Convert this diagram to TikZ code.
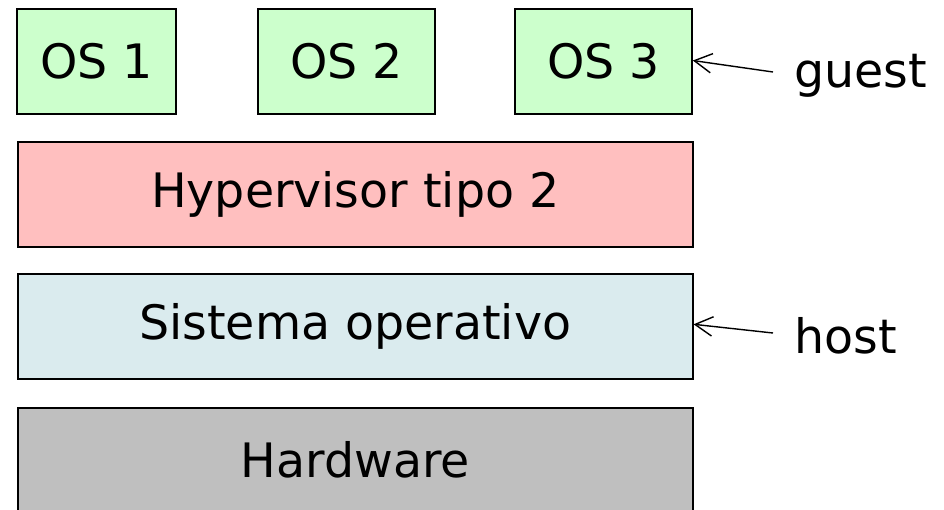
\documentclass[tikz,border=0pt]{standalone}
\usepackage{fontspec}
\setmainfont{DejaVu Sans}
\usetikzlibrary{arrows.meta,positioning}
\definecolor{guestgreen}{HTML}{CCFFCC}
\definecolor{hyperpink}{HTML}{FFBFBF}
\definecolor{hostblue}{HTML}{DAEBEE}
\definecolor{hwgray}{HTML}{BFBFBF}
\tikzset{
  layer/.style={draw, line width=0.9pt, minimum height=2.1cm, inner sep=0pt, font=\fontsize{27}{30}\selectfont},
  osbox/.style={layer, fill=guestgreen, minimum width=3.3cm},
  wide/.style={layer, minimum width=13.5cm, anchor=north west},
  tag/.style={font=\fontsize{27}{30}\selectfont, anchor=west, inner sep=0pt},
  pointer/.style={-{Straight Barb[length=10pt,width=11pt]}, line width=0.8pt}
}
\begin{document}
\begin{tikzpicture}
					\useasboundingbox (0,0) rectangle (18.88,-10.18);
					\clip (0,0) rectangle (18.88,-10.18);

					% guest systems
					\node[osbox, minimum width=3.18cm] (os1) at (1.93,-1.23) {OS 1};
					\node[osbox, minimum width=3.54cm] (os2) at (6.93,-1.23) {OS 2};
					\node[osbox, minimum width=3.54cm] (os3) at (12.07,-1.23) {OS 3};

					% layers
					\node[wide, fill=hyperpink] (hyp) at (0.34,-2.82) {Hypervisor tipo 2};
					\node[wide, fill=hostblue] (sys) at (0.34,-5.46) {Sistema operativo};
					\node[wide, fill=hwgray] (hw) at (0.34,-8.14) {Hardware};

					% labels
					\node[tag] (guest) at (15.88,-1.52) {guest};
					\node[tag] (host) at (15.88,-6.72) {host};
					\coordinate (gtail) at (15.46,-1.44);
					\coordinate (htail) at (15.46,-6.66);
					\draw[pointer] (gtail) -- ([yshift=0.02cm]os3.east);
					\draw[pointer] (htail) -- ([yshift=0.04cm]sys.east);
				\end{tikzpicture}
\end{document}
